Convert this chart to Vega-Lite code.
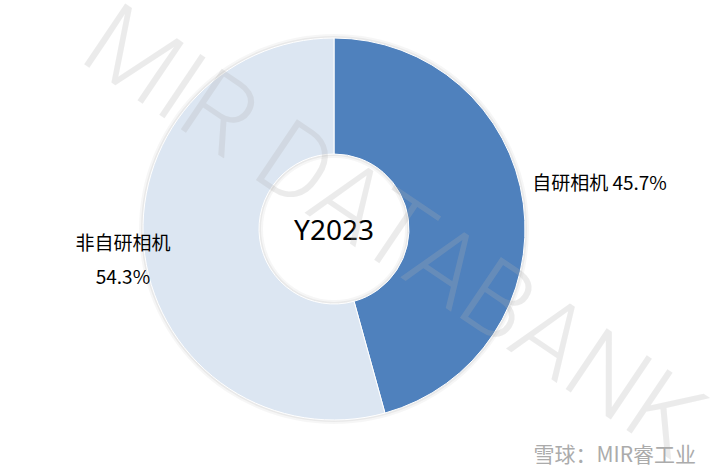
{
  "$schema": "https://vega.github.io/schema/vega-lite/v6.json",
  "width": 668,
  "height": 458,
  "autosize": {"type": "none"},
  "padding": {"left": 0, "top": 0, "right": 48, "bottom": 14},
  "background": "white",
  "view": {"stroke": null},
  "data": {
    "values": [
      {"category": "自研相机", "idx": 1, "share": 45.7, "label": "自研相机 45.7%"},
      {"category": "非自研相机", "idx": 2, "share": 54.3, "label": "非自研相机\n54.3%"}
    ]
  },
  "layer": [
    {
      "data": {"values": [{"k": 1}]},
      "mark": {"type": "arc", "outerRadius": 195, "innerRadius": 71, "fill": "#000000", "opacity": 0.035},
      "encoding": {}
    },
    {
      "data": {"values": [{"k": 1}]},
      "mark": {"type": "arc", "outerRadius": 193, "innerRadius": 73, "fill": "#000000", "opacity": 0.05},
      "encoding": {}
    },
    {
      "mark": {"type": "arc", "outerRadius": 191, "innerRadius": 75, "stroke": "white", "strokeWidth": 1},
      "encoding": {
        "theta": {"field": "share", "type": "quantitative", "stack": true},
        "order": {"field": "idx", "type": "quantitative"},
        "color": {
          "field": "category",
          "type": "nominal",
          "scale": {"domain": ["自研相机", "非自研相机"], "range": ["#4F81BD", "#DCE6F2"]},
          "legend": null
        }
      }
    },
    {
      "mark": {"type": "text", "radius": 200, "align": "left", "baseline": "middle", "dy": -18, "fontSize": 19, "font": "Noto Sans CJK SC", "color": "#000000"},
      "encoding": {
        "theta": {"field": "share", "type": "quantitative", "stack": true},
        "order": {"field": "idx", "type": "quantitative"},
        "text": {"condition": {"test": "datum.category === '自研相机'", "field": "label"}, "value": ""}
      }
    },
    {
      "mark": {"type": "text", "radius": 213, "align": "center", "baseline": "middle", "dy": -14, "fontSize": 19, "lineHeight": 34, "lineBreak": "\n", "font": "Noto Sans CJK SC", "color": "#000000"},
      "encoding": {
        "theta": {"field": "share", "type": "quantitative", "stack": true},
        "order": {"field": "idx", "type": "quantitative"},
        "text": {"condition": {"test": "datum.category === '非自研相机'", "field": "label"}, "value": ""}
      }
    },
    {
      "data": {"values": [{"t": "Y2023"}]},
      "mark": {"type": "text", "align": "center", "baseline": "middle", "dy": 3, "fontSize": 28, "font": "Noto Sans", "color": "#000000"},
      "encoding": {"text": {"field": "t"}}
    },
    {
      "data": {"values": [{"t": "雪球：MIR睿工业"}]},
      "mark": {"type": "text", "align": "right", "baseline": "middle", "dx": 362, "dy": 227, "fontSize": 21, "font": "Noto Sans CJK SC", "color": "#ababab"},
      "encoding": {"text": {"field": "t"}}
    },
    {
      "data": {"values": [{"t": "MIR DATABANK"}]},
      "mark": {"type": "text", "align": "center", "baseline": "middle", "angle": 34, "dx": 51, "dy": -28, "fontSize": 103, "fontWeight": 300, "font": "Roboto", "color": "#b0b0b0", "opacity": 0.24},
      "encoding": {"text": {"field": "t"}}
    }
  ]
}
